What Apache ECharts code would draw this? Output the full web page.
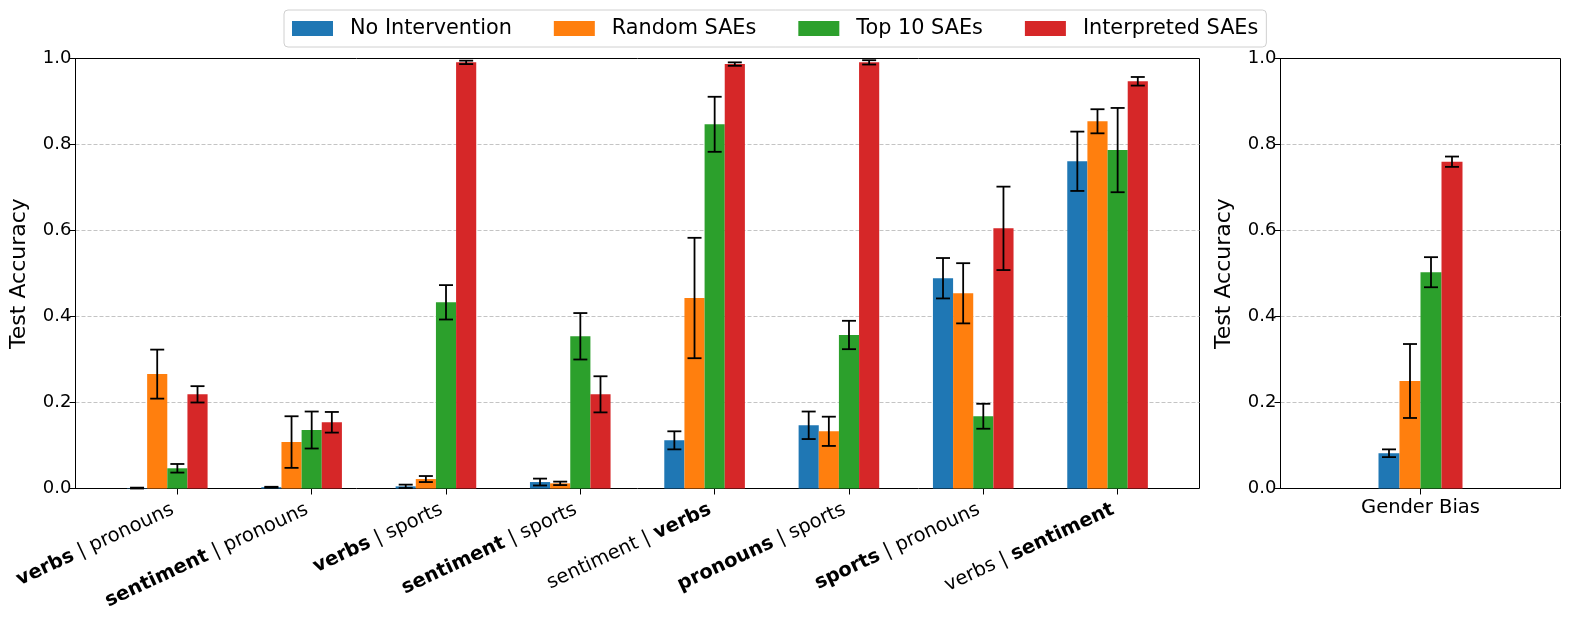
<!DOCTYPE html>
<html>
<head>
<meta charset="utf-8">
<script src="https://cdn.jsdelivr.net/npm/echarts@6/dist/echarts.min.js"></script>
<style>
html,body{margin:0;padding:0;background:#fff;}
#chart{width:1571px;height:624px;}
</style>
</head>
<body>
<div id="chart"></div>
<script>
// ---- data ----
const categories = ['verbs | pronouns', 'sentiment | pronouns', 'verbs | sports', 'sentiment | sports',
  'sentiment | verbs', 'pronouns | sports', 'sports | pronouns', 'verbs | sentiment'];
const boldSide = [0, 0, 0, 0, 1, 0, 0, 1]; // which side of "|" is bold
const seriesNames = ['No Intervention', 'Random SAEs', 'Top 10 SAEs', 'Interpreted SAEs'];
const noIntervention    = [0.001, 0.003, 0.005, 0.015, 0.112, 0.147, 0.489, 0.761];
const noInterventionErr = [0.001, 0.001, 0.004, 0.008, 0.021, 0.032, 0.047, 0.069];
const randomSAEs        = [0.266, 0.108, 0.022, 0.012, 0.443, 0.133, 0.454, 0.854];
const randomSAEsErr     = [0.057, 0.060, 0.007, 0.004, 0.140, 0.034, 0.070, 0.028];
const top10SAEs         = [0.047, 0.136, 0.433, 0.354, 0.847, 0.357, 0.168, 0.787];
const top10SAEsErr      = [0.010, 0.043, 0.040, 0.054, 0.064, 0.033, 0.029, 0.098];
const interpretedSAEs   = [0.219, 0.154, 0.991, 0.219, 0.987, 0.991, 0.605, 0.947];
const interpretedSAEsErr= [0.019, 0.024, 0.004, 0.042, 0.004, 0.005, 0.097, 0.010];
const genderCategories = ['Gender Bias'];
const genderValues = [0.082, 0.250, 0.503, 0.760];
const genderErr    = [0.009, 0.086, 0.035, 0.012];

// ---- styles ----
const colors = ['#1f77b4', '#ff7f0e', '#2ca02c', '#d62728'];
const FONT = 'DejaVu Sans';
const leftBarW = 20.15, rightBarW = 21;

const leftVals = [noIntervention, randomSAEs, top10SAEs, interpretedSAEs];
const leftErrs = [noInterventionErr, randomSAEsErr, top10SAEsErr, interpretedSAEsErr];

function richLabel(idx) {
  const parts = categories[idx].split(' | ');
  if (boldSide[idx] === 0) return '{b|' + parts[0] + '}{n| | ' + parts[1] + '}';
  return '{n|' + parts[0] + ' | }{b|' + parts[1] + '}';
}

function errSeries(vals, errs, s, center, barPx, xi, yi) {
  return {
    type: 'custom', xAxisIndex: xi, yAxisIndex: yi, z: 10, silent: true,
    data: vals.map((v, i) => [i, v, errs[i]]),
    encode: { x: 0, y: 1 },
    renderItem: function (params, api) {
      const i = api.value(0), v = api.value(1), e = api.value(2);
      const top = api.coord([i, v + e]);
      const bot = api.coord([i, v - e]);
      const x = top[0] + (s - center) * barPx;
      const cap = 7;
      const st = { stroke: '#000', lineWidth: 1.8 };
      return {
        type: 'group', children: [
          { type: 'line', shape: { x1: x, y1: top[1], x2: x, y2: bot[1] }, style: st },
          { type: 'line', shape: { x1: x - cap, y1: top[1], x2: x + cap, y2: top[1] }, style: st },
          { type: 'line', shape: { x1: x - cap, y1: bot[1], x2: x + cap, y2: bot[1] }, style: st }
        ]
      };
    }
  };
}

const yAxisCommon = {
  type: 'value', min: 0, max: 1, interval: 0.2,
  axisLine: { show: true, lineStyle: { color: '#000', width: 1 } },
  axisTick: { show: true, length: 6, lineStyle: { color: '#000' } },
  axisLabel: { color: '#000', fontSize: 18, fontFamily: FONT, margin: 4,
    formatter: v => v.toFixed(1) },
  splitLine: { show: true, showMinLine: false, showMaxLine: false,
    lineStyle: { color: '#c4c4c4', type: [4, 2], width: 1 } },
  name: 'Test Accuracy', nameLocation: 'middle', nameGap: 45,
  nameTextStyle: { color: '#000', fontSize: 22, fontFamily: FONT }
};

const series = [];
seriesNames.forEach((n, s) => {
  series.push({
    type: 'bar', name: n, xAxisIndex: 1, yAxisIndex: 1,
    data: leftVals[s], barWidth: leftBarW, barGap: '0%',
    itemStyle: { color: colors[s] }
  });
});
series.push({ type: 'bar', name: '_pad', xAxisIndex: 1, yAxisIndex: 1,
  data: categories.map(() => '-'), barWidth: leftBarW, barGap: '0%', itemStyle: { color: 'rgba(0,0,0,0)' } });
seriesNames.forEach((n, s) => {
  series.push({
    type: 'bar', name: n, xAxisIndex: 2, yAxisIndex: 2,
    data: [genderValues[s]], barWidth: rightBarW, barGap: '0%',
    itemStyle: { color: colors[s] }
  });
});
seriesNames.forEach((n, s) => {
  series.push(errSeries(leftVals[s], leftErrs[s], s, 2, leftBarW, 1, 1));
  series.push(errSeries([genderValues[s]], [genderErr[s]], s, 1.5, rightBarW, 2, 2));
});

const option = {
  animation: false,
  backgroundColor: '#fff',
  textStyle: { fontFamily: FONT },
  color: colors,
  legend: {
    data: seriesNames, left: 284, top: 10,
    itemWidth: 41, itemHeight: 15, itemGap: 42,
    icon: 'rect',
    padding: [8, 8, 8, 8],
    borderColor: '#d0d0d0', borderWidth: 1, borderRadius: 4, backgroundColor: '#fff',
    textStyle: { color: '#000', fontSize: 20.8, fontFamily: FONT, padding: [0, 0, 0, 12] }
  },
  grid: [
    { left: 75.5, right: 371.5, top: 58.5, bottom: 135.5, outerBoundsMode: 'none', containLabel: false,
      show: true, borderColor: '#000', borderWidth: 1, backgroundColor: 'transparent' },
    { left: 110.2, right: 386.2, top: 58.5, bottom: 135.5, outerBoundsMode: 'none', containLabel: false },
    { left: 1280.5, right: 10.5, top: 58.5, bottom: 135.5, outerBoundsMode: 'none', containLabel: false,
      show: true, borderColor: '#000', borderWidth: 1, backgroundColor: 'transparent' }
  ],
  xAxis: [
    { type: 'value', gridIndex: 0, show: false, min: 0, max: 1, interval: 1,
      splitLine: { show: false }, axisLine: { show: false }, axisTick: { show: false }, axisLabel: { show: false } },
    { type: 'category', gridIndex: 1, data: categories,
      axisLine: { show: false },
      splitLine: { show: false },
      axisTick: { show: true, alignWithLabel: true, length: 6, lineStyle: { color: '#000' } },
      axisLabel: { color: '#000', fontSize: 19.5, fontFamily: FONT, rotate: 25, margin: 18, interval: 0,
        padding: [0, 5, 0, 0],
        formatter: (val, idx) => richLabel(idx),
        rich: { b: { fontWeight: 'bold', fontSize: 19.5, fontFamily: FONT, color: '#000' },
                n: { fontSize: 19.5, fontFamily: FONT, color: '#000' } } } },
    { type: 'category', gridIndex: 2, data: genderCategories,
      axisLine: { show: true, lineStyle: { color: '#000' } },
      splitLine: { show: false },
      axisTick: { show: true, alignWithLabel: true, length: 6, lineStyle: { color: '#000' } },
      axisLabel: { color: '#000', fontSize: 19.5, fontFamily: FONT, margin: 9 } }
  ],
  yAxis: [
    Object.assign({ gridIndex: 0 }, yAxisCommon),
    { type: 'value', gridIndex: 1, min: 0, max: 1, show: false,
      splitLine: { show: false }, axisLine: { show: false }, axisTick: { show: false }, axisLabel: { show: false } },
    Object.assign({ gridIndex: 2 }, yAxisCommon)
  ],
  series: series
};

const chart = echarts.init(document.getElementById('chart'), null, { renderer: 'canvas' });
chart.setOption(option);
</script>
</body>
</html>
